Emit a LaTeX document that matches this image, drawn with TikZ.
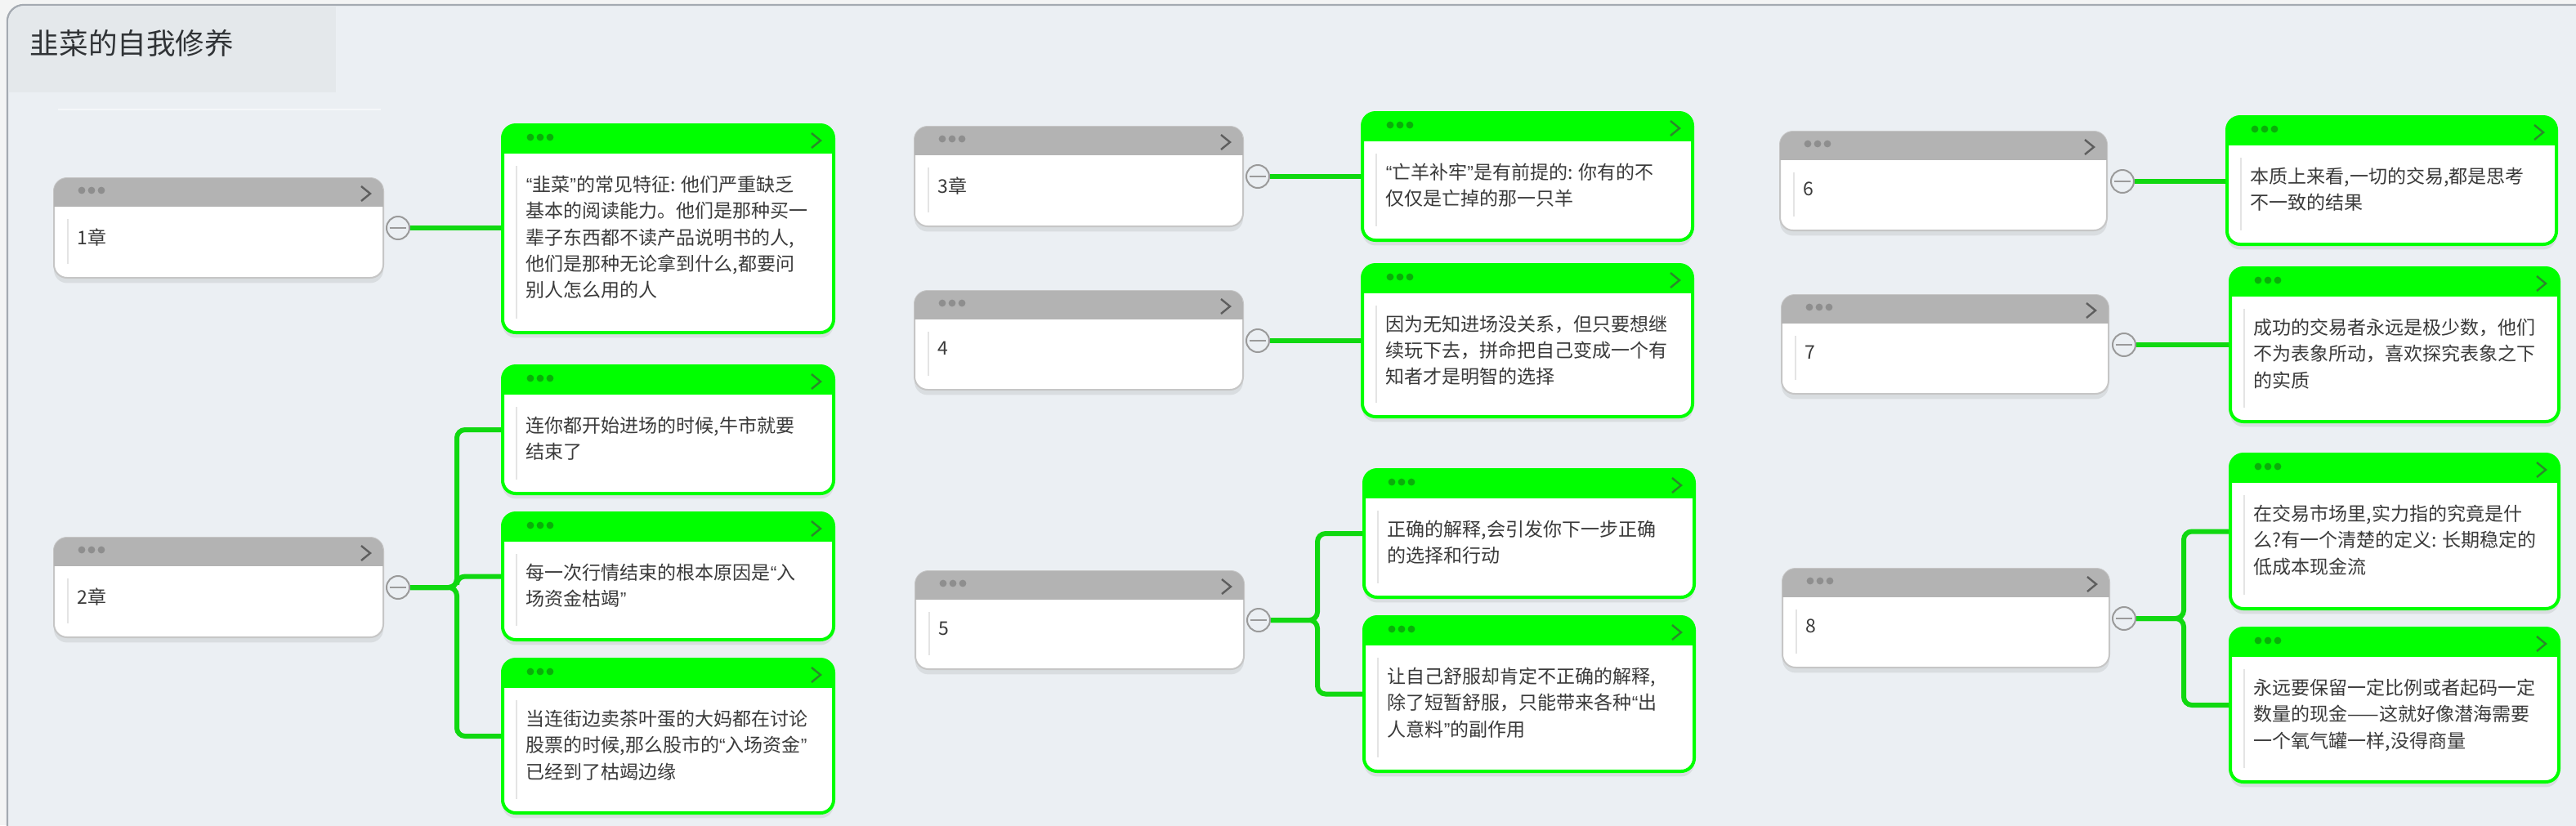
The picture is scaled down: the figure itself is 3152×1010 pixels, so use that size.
\documentclass[tikz,border=0pt]{standalone}
\usepackage{fontspec}
\setmainfont{Noto Sans CJK SC}
\newfontfamily\latinq{Liberation Sans}
\newcommand\oq{{\latinq “}}
\newcommand\cq{{\latinq ”}}
\usetikzlibrary{shadows}
\definecolor{bgc}{HTML}{EBEFF3}
\definecolor{stripc}{HTML}{F3F4F4}
\definecolor{framec}{HTML}{A4AAB1}
\definecolor{panelc}{HTML}{E4E8EB}
\definecolor{divc}{HTML}{F5F7F9}
\definecolor{ghdr}{HTML}{B3B3B3}
\definecolor{gdot}{HTML}{8E8E8E}
\definecolor{gchev}{HTML}{5E5E5E}
\definecolor{gline}{HTML}{C6C6C6}
\definecolor{grn}{HTML}{00FF00}
\definecolor{grndot}{HTML}{0AAE0A}
\definecolor{grnchev}{HTML}{2A8A2A}
\definecolor{connc}{HTML}{10D810}
\definecolor{txtc}{HTML}{3A3A3A}
\definecolor{titlec}{HTML}{303336}
\definecolor{guidec}{HTML}{E4E4E4}
\definecolor{minusc}{HTML}{9A9A9A}
\pgfdeclarelayer{back}
\pgfdeclarelayer{links}
\pgfsetlayers{back,links,main}
\tikzset{
  graybox/.style={draw=gline, line width=0.5pt, fill=white, rounded corners=4pt, inner sep=0pt,
    drop shadow={opacity=0.16, shadow xshift=0pt, shadow yshift=-1.6pt}},
  grayhdr/.style={fill=ghdr},
  graydot/.style={fill=gdot},
  graychev/.style={draw=gchev, line width=0.6pt},
  greenbox/.style={draw=grn, line width=1pt, fill=white, rounded corners=4pt, inner sep=0pt,
    drop shadow={opacity=0.16, shadow xshift=0pt, shadow yshift=-1.6pt}},
  greenhdr/.style={fill=grn},
  greendot/.style={fill=grndot},
  greenchev/.style={draw=grnchev, line width=0.6pt},
  guide/.style={draw=guidec, line width=0.5pt},
  txt/.style={anchor=north west, align=left, inner sep=0pt, text=txtc,
    font=\fontsize{5.75pt}{8.1pt}\selectfont},
  minus/.style={circle, draw=minusc, line width=0.5pt, fill=bgc, minimum size=7pt, inner sep=0pt,
    path picture={\draw[minusc, line width=0.5pt]
      ([xshift=-2.6pt]path picture bounding box.center) --
      ([xshift=2.6pt]path picture bounding box.center);}},
  link/.style={draw=connc, line width=1.5pt, rounded corners=2.5pt},
}
\newcommand\card[7]{%
  \pgfmathsetmacro\cw{(#4-#2)*0.25}%
  \pgfmathsetmacro\ch{(#5-#3)*0.25}%
  \node[#6box, minimum width=\cw pt, minimum height=\ch pt] (#1) at ({(#2+#4)/2},{(#3+#5)/2}) {};
  \begin{scope}
    \clip[rounded corners=4pt] (#2,#3) rectangle (#4,#5);
    \fill[#6hdr] (#2,#3) rectangle (#4,{#3+35});
  \end{scope}
  \foreach \k in {0,1,2} \fill[#6dot] ({#2+34+12*\k},{#3+15}) circle (1.1pt);
  \draw[#6chev] ({#4-27},{#3+10}) -- ({#4-16},{#3+19}) -- ({#4-27},{#3+28});
  \draw[guide] ({#2+17},{#3+50}) -- ({#2+17},{#5-17});
  \node[txt] (#1t) at ({#2+28},{#3+61}) {#7};
}
\begin{document}
\begin{tikzpicture}[x=0.25pt, y=-0.25pt]
\useasboundingbox (0,0) rectangle (3152,1010);
\clip (0,0) rectangle (3152,1010);
\begin{pgfonlayer}{back}
  \fill[stripc] (0,0) rectangle (3152,1010);
  \filldraw[fill=bgc, draw=framec, line width=0.6pt, rounded corners=5pt] (9,6) rectangle (3220,1070);
  \begin{scope}
    \clip[rounded corners=5pt] (10,7) rectangle (3220,1070);
    \fill[panelc] (9,6) rectangle (411,113);
  \end{scope}
  \draw[divc, line width=0.5pt] (71,134) -- (466,134);
\end{pgfonlayer}

\node[anchor=west, inner sep=0pt, text=titlec, font=\fontsize{8.9pt}{10pt}\selectfont] (title) at (36,53) {韭菜的自我修养};

% chapter nodes
\card{n1}{66}{218}{469}{340}{gray}{1章}
\card{n2}{66}{658}{469}{780}{gray}{2章}
\card{n3}{1119}{155}{1521}{277}{gray}{3章}
\card{n4}{1119}{356}{1521}{477}{gray}{4}
\card{n5}{1120}{699}{1522}{819}{gray}{5}
\card{n6}{2178}{161}{2578}{282}{gray}{6}
\card{n7}{2180}{361}{2580}{482}{gray}{7}
\card{n8}{2181}{696}{2581}{817}{gray}{8}

% notes
\card{g1}{615}{153}{1020}{407}{green}{\oq 韭菜\cq 的常见特征: 他们严重缺乏\\基本的阅读能力。他们是那种买一\\辈子东西都不读产品说明书的人,\\他们是那种无论拿到什么,都要问\\别人怎么用的人}
\card{g2a}{615}{448}{1020}{604}{green}{连你都开始进场的时候,牛市就要\\结束了}
\card{g2b}{615}{628}{1020}{783}{green}{每一次行情结束的根本原因是\oq 入\\场资金枯竭\cq}
\card{g2c}{615}{807}{1020}{995}{green}{当连街边卖茶叶蛋的大妈都在讨论\\股票的时候,那么股市的\oq 入场资金\cq\\已经到了枯竭边缘}
\card{g3}{1667}{138}{2071}{294}{green}{\oq 亡羊补牢\cq 是有前提的: 你有的不\\仅仅是亡掉的那一只羊}
\card{g4}{1667}{324}{2071}{510}{green}{因为无知进场没关系，但只要想继\\续玩下去，拼命把自己变成一个有\\知者才是明智的选择}
\card{g5a}{1669}{575}{2073}{731}{green}{正确的解释,会引发你下一步正确\\的选择和行动}
\card{g5b}{1669}{755}{2073}{944}{green}{让自己舒服却肯定不正确的解释,\\除了短暂舒服，只能带来各种\oq 出\\人意料\cq 的副作用}
\card{g6}{2725}{143}{3128}{299}{green}{本质上来看,一切的交易,都是思考\\不一致的结果}
\card{g7}{2729}{328}{3131}{516}{green}{成功的交易者永远是极少数，他们\\不为表象所动，喜欢探究表象之下\\的实质}
\card{g8a}{2729}{556}{3131}{745}{green}{在交易市场里,实力指的究竟是什\\么?有一个清楚的定义: 长期稳定的\\低成本现金流}
\card{g8b}{2729}{769}{3131}{957}{green}{永远要保留一定比例或者起码一定\\数量的现金——这就好像潜海需要\\一个氧气罐一样,没得商量}

% collapse circles
\node[minus] (c1) at (487,279) {};
\node[minus] (c2) at (487,719) {};
\node[minus] (c3) at (1539,216) {};
\node[minus] (c4) at (1539,417) {};
\node[minus] (c5) at (1540,759) {};
\node[minus] (c6) at (2597,222) {};
\node[minus] (c7) at (2599,422) {};
\node[minus] (c8) at (2599,757) {};

\coordinate (k2) at (559,719);
\coordinate (k5) at (1612,759);
\coordinate (k8) at (2672,757);

\begin{pgfonlayer}{links}
  \draw[link] (c1.east) -- (c1.east -| g1.west);
  \draw[link] (c3.east) -- (c3.east -| g3.west);
  \draw[link] (c4.east) -- (c4.east -| g4.west);
  \draw[link] (c6.east) -- (c6.east -| g6.west);
  \draw[link] (c7.east) -- (c7.east -| g7.west);
  \draw[link] (c2.east) -- (k2) |- (g2a.west);
  \draw[link] (c2.east) -- (k2) |- (g2b.west);
  \draw[link] (c2.east) -- (k2) |- (g2c.west);
  \draw[link] (c5.east) -- (k5) |- (g5a.west);
  \draw[link] (c5.east) -- (k5) |- (g5b.west);
  \draw[link] (c8.east) -- (k8) |- (g8a.west);
  \draw[link] (c8.east) -- (k8) |- (g8b.west);
\end{pgfonlayer}
\end{tikzpicture}
\end{document}
